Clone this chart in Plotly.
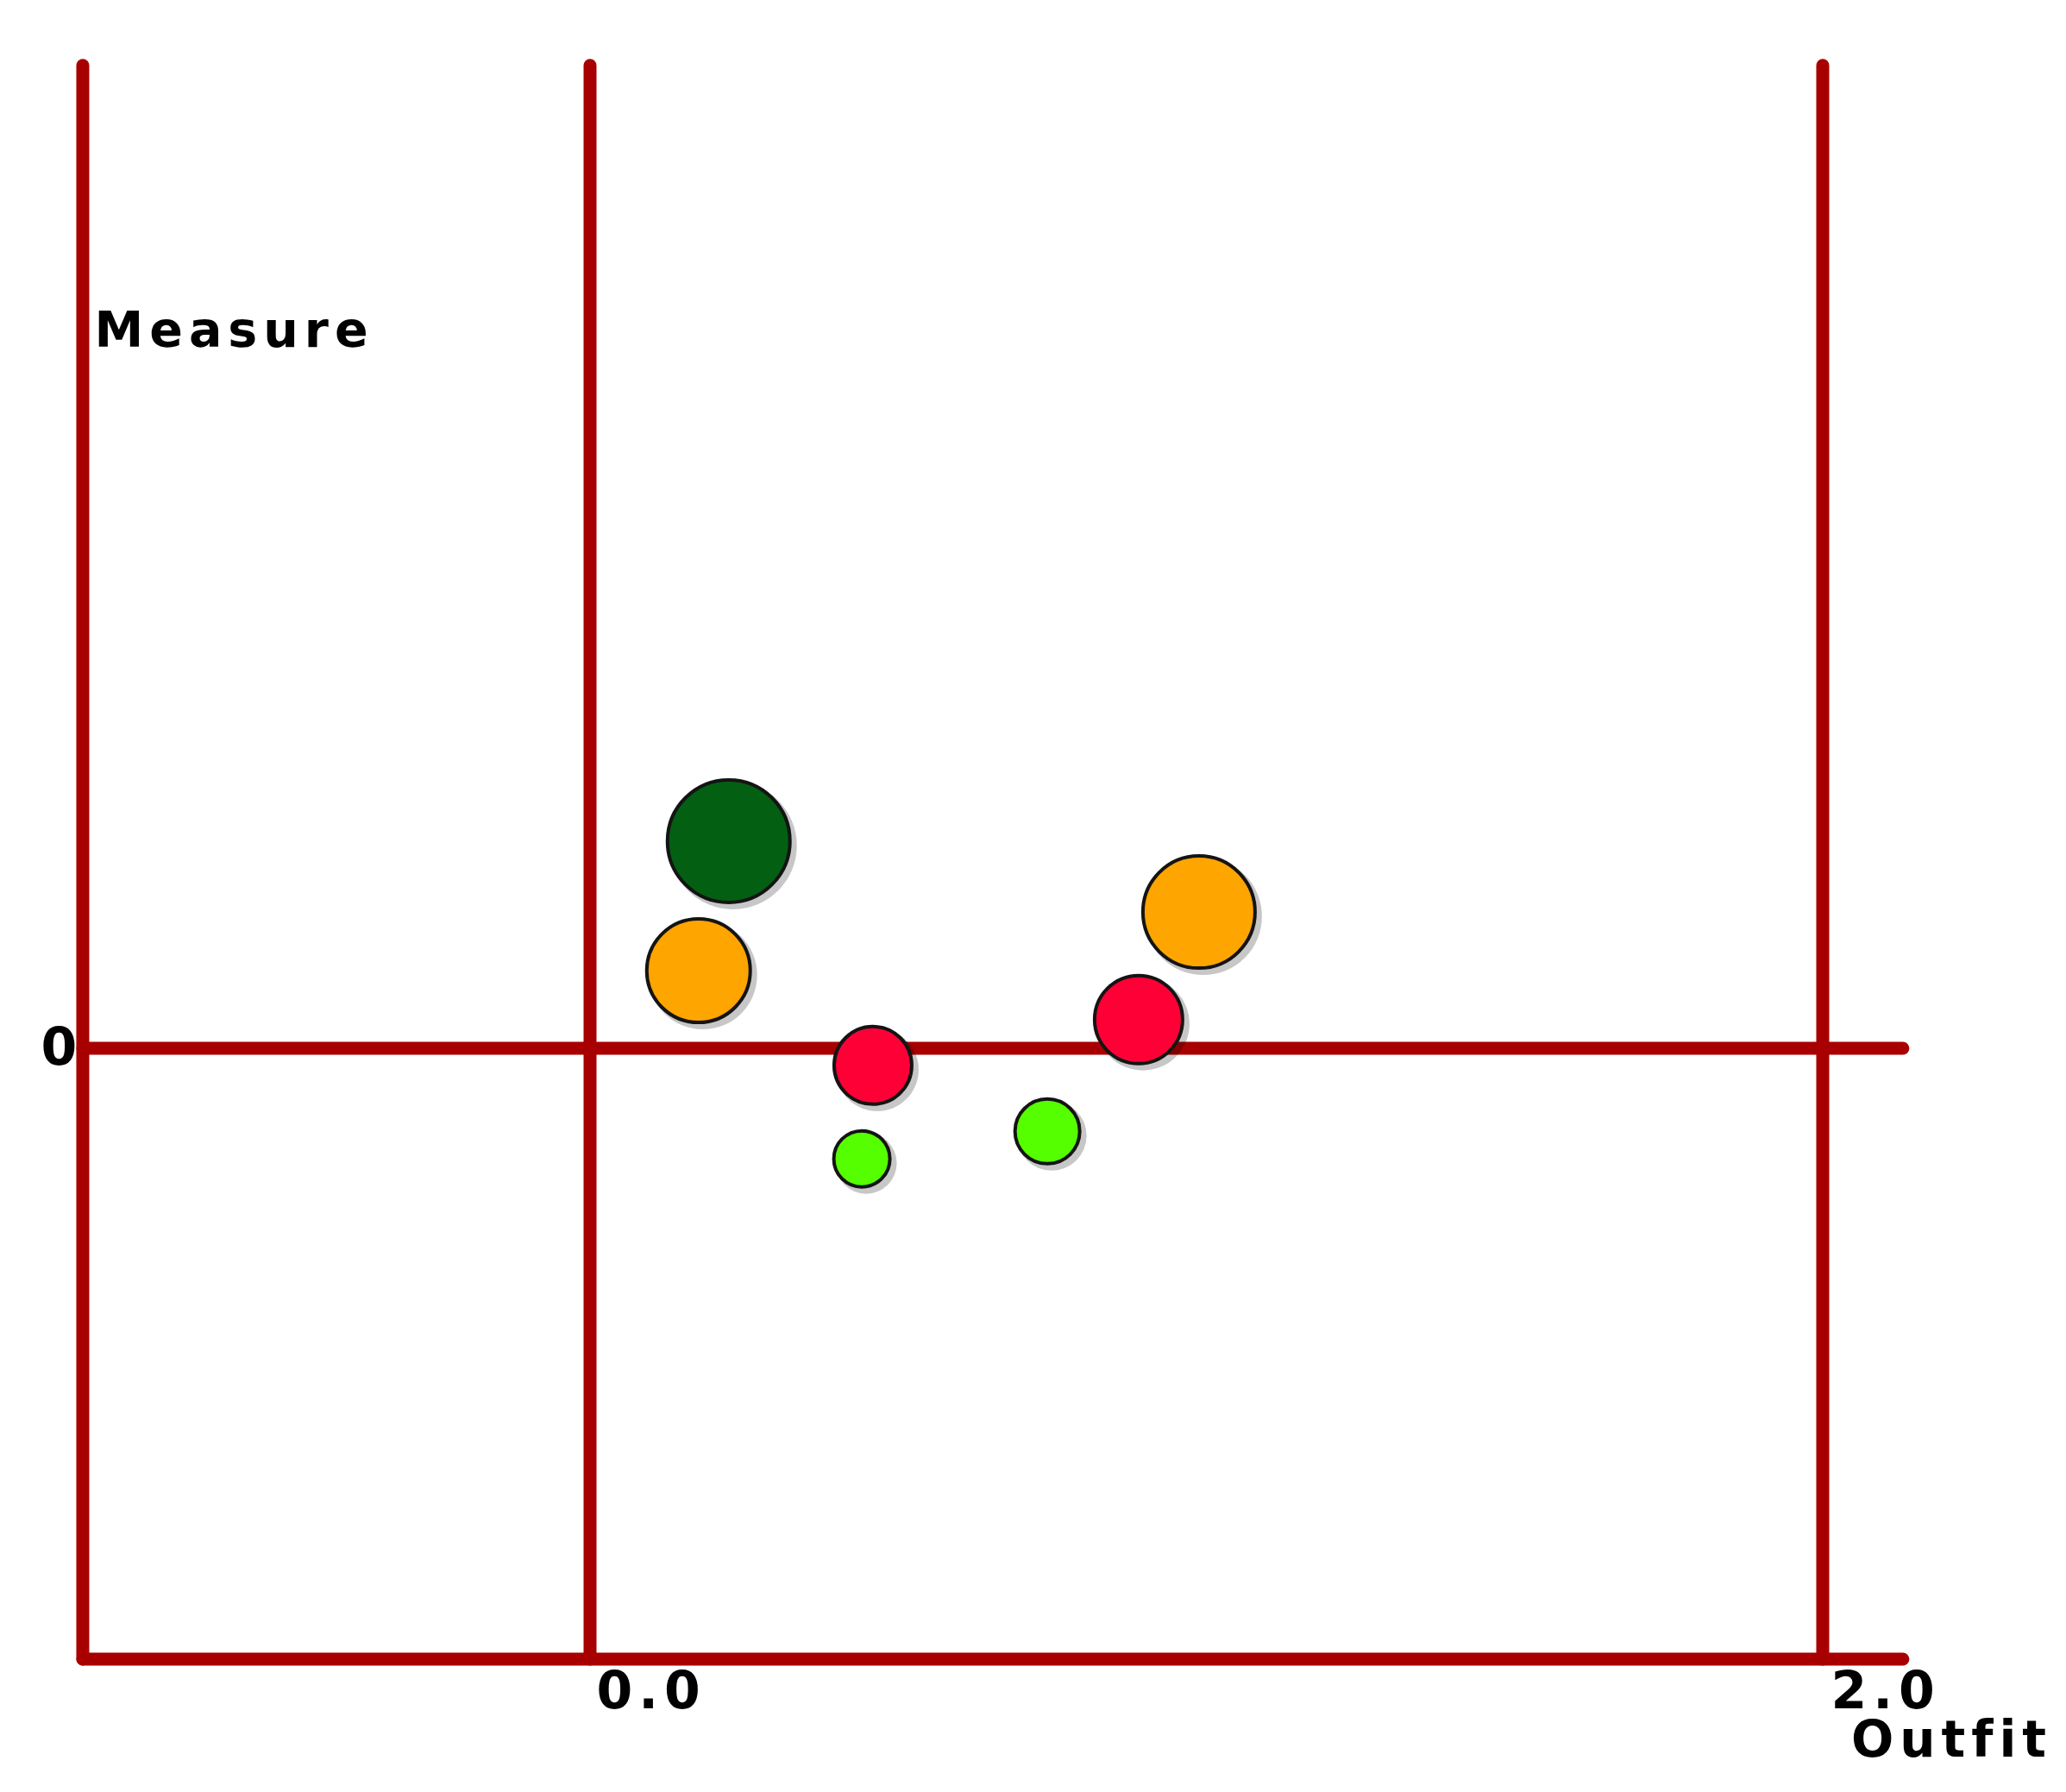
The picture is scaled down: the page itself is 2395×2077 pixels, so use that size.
import plotly.graph_objects as go

# ---- data ----
outfit = [0.225, 0.176, 0.459, 0.441, 0.742, 0.890, 0.988]
measure = [0.339, 0.127, -0.028, -0.181, -0.136, 0.047, 0.223]
sizes = [142, 120, 90, 65, 75, 102, 130]
colors = ["#035f12", "#ffa500", "#ff0036", "#55ff00", "#55ff00", "#ff0036", "#ffa500"]

x_ticks = [0.0, 2.0]
x_tick_labels = ["0.0", "2.0"]
y_ticks = [0]
y_tick_labels = ["0"]
x_title = "Outfit"
y_title = "Measure"

x_frame = [-0.823, 2.130]
y_frame = [-1.0, 1.609]

# ---- layout geometry ----
W, H = 2395, 2077
xr = [-0.9573, 2.3947]
yr = [-1.2175, 1.7161]
px_x = W / (xr[1] - xr[0])
px_y = H / (yr[1] - yr[0])
sh = 5  # shadow offset, px

line_col = "#a80000"
lw = 15
font_fam = "DejaVu Sans, Verdana, sans-serif"

fig = go.Figure()

# soft shadows on the base axis pair (slightly shifted ranges, drawn underneath)
fig.add_trace(go.Scatter(
    x=outfit, y=measure, mode="markers", xaxis="x", yaxis="y",
    marker=dict(size=[s + 6 for s in sizes], color="rgba(0,0,0,0.22)", opacity=1,
                line=dict(width=0)),
    hoverinfo="skip", showlegend=False,
))
# the bubbles on the overlaid axis pair (true ranges, drawn on top)
fig.add_trace(go.Scatter(
    x=outfit, y=measure, mode="markers", xaxis="x2", yaxis="y2",
    marker=dict(size=sizes, color=colors, opacity=1, line=dict(width=4, color="#141414")),
    showlegend=False,
))

shapes = []
for xv in [x_frame[0]] + x_ticks:
    shapes.append(dict(type="line", x0=xv, x1=xv, y0=y_frame[0], y1=y_frame[1],
                       xref="x2", yref="y2", layer="below",
                       line=dict(color=line_col, width=lw)))
for yv in [y_frame[0]] + y_ticks:
    shapes.append(dict(type="line", x0=x_frame[0], x1=x_frame[1], y0=yv, y1=yv,
                       xref="x2", yref="y2", layer="below",
                       line=dict(color=line_col, width=lw)))

annotations = []
fs = 60
x_tick_label_x = [0.1000, 2.1025]
for xv, lab in zip(x_tick_label_x, x_tick_labels):
    annotations.append(dict(x=xv, y=-1.051, xref="x2", yref="y2", text="<b>%s</b>" % lab,
                            xanchor="center", yanchor="middle", showarrow=False,
                            font=dict(family=font_fam, size=fs, color="#000")))
for yv, lab in zip(y_ticks, y_tick_labels):
    annotations.append(dict(x=-0.8565, y=yv + 2 / px_y, xref="x2", yref="y2", text="<b>%s</b>" % lab,
                            xanchor="center", yanchor="middle", showarrow=False,
                            font=dict(family=font_fam, size=fs, color="#000")))
annotations.append(dict(x=-0.5780, y=1.177, xref="x2", yref="y2", text="<b>%s</b>" % y_title,
                        xanchor="center", yanchor="middle", showarrow=False,
                        font=dict(family=font_fam, size=57, color="#000")))
annotations.append(dict(x=2.209, y=-1.131, xref="x2", yref="y2", text="<b>%s</b>" % x_title,
                        xanchor="center", yanchor="middle", showarrow=False,
                        font=dict(family=font_fam, size=58, color="#000")))

ax = dict(visible=False, showgrid=False, zeroline=False, fixedrange=True)
fig.update_layout(
    width=W, height=H, autosize=False,
    margin=dict(l=0, r=0, t=0, b=0, pad=0),
    paper_bgcolor="white", plot_bgcolor="rgba(0,0,0,0)",
    xaxis=dict(ax, range=[xr[0] - sh / px_x, xr[1] - sh / px_x], domain=[0, 1]),
    yaxis=dict(ax, range=[yr[0] + sh / px_y, yr[1] + sh / px_y], domain=[0, 1]),
    xaxis2=dict(ax, range=xr, overlaying="x", domain=[0, 1]),
    yaxis2=dict(ax, range=yr, overlaying="y", domain=[0, 1]),
    shapes=shapes, annotations=annotations,
)

post = """
document.body.style.margin='0';
document.querySelectorAll('.annotation-text').forEach(function(e){e.style.letterSpacing='7px';});
document.querySelectorAll('.shapelayer path').forEach(function(e){e.style.strokeLinecap='round';});
"""
fig.write_html("out.html", config={"displayModeBar": False, "staticPlot": True}, post_script=post)
